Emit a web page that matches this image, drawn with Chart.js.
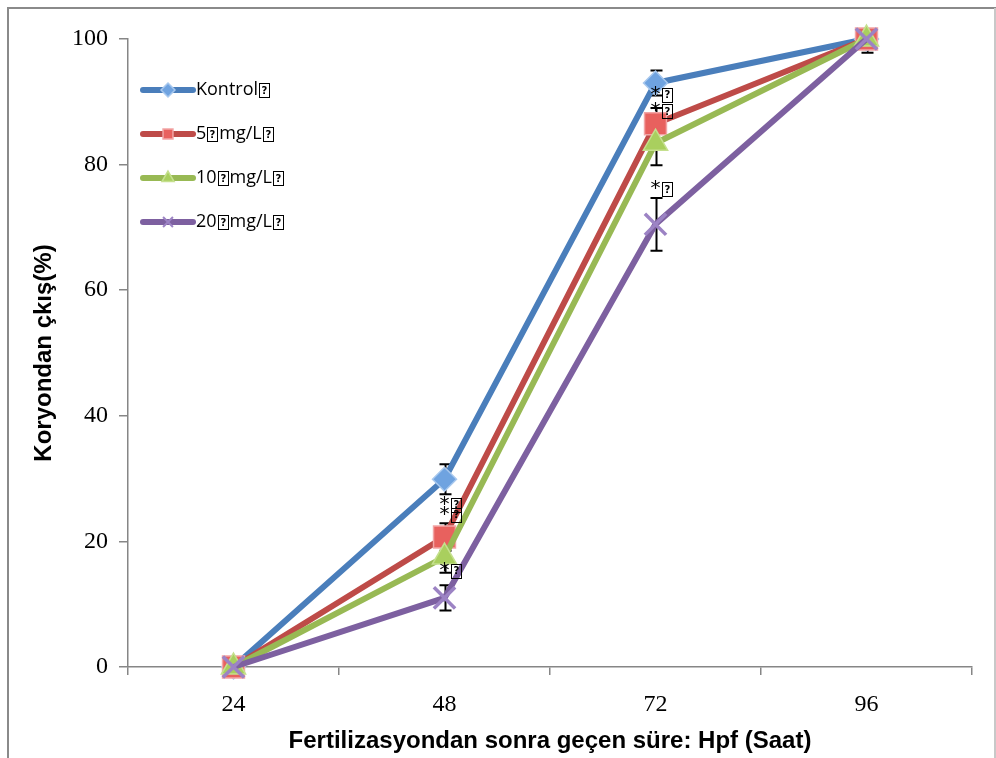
<!DOCTYPE html>
<html><head><meta charset="utf-8">
<script src="https://cdn.jsdelivr.net/npm/chart.js@4/dist/chart.umd.min.js"></script>
<style>html,body{margin:0;padding:0;background:#fff;}#wrap{width:996px;height:758px;position:relative;}</style>
</head><body><div id="wrap"><canvas id="c" width="996" height="758"></canvas></div>
<script>
const TOFU = '\u25A1';
const categories = ['24', '48', '72', '96'];
const seriesNames = ['Kontrol' + TOFU, '5' + TOFU + 'mg/L' + TOFU, '10' + TOFU + 'mg/L' + TOFU, '20' + TOFU + 'mg/L' + TOFU];
const kontrol = [0, 29.9, 93.0, 100];
const mg5 = [0, 20.7, 86.5, 100];
const mg10 = [0, 17.5, 83.4, 100];
const mg20 = [0, 11.0, 70.5, 100];
const kontrolErr = [0, 2.4, 2.0, 0];
const mg5Err = [0, 2.2, 2.5, 0];
const mg10Err = [0, 2.5, 3.5, 0];
const mg20Err = [0, 2.0, 4.2, 2.2];
const sigText = '*' + TOFU;
const mg5Sig = [null, 26.3, 91.6, null];
const mg10Sig = [null, 24.7, 89.0, null];
const mg20Sig = [null, 15.8, 76.6, null];
const yTicks = [0, 20, 40, 60, 80, 100];

const lineColors = ['#4A7EBB', '#BE4B48', '#98B954', '#7D60A0'];
const markerFill = ['#6FA3E0', '#E8615E', '#A9CF5E', '#9C83C4'];
const markerBorder = ['#A8C8EE', '#F2A5A5', '#C5E08E', '#B9A6D8'];
const pointStyles = ['rectRot', 'rect', 'triangle', 'crossRot'];
const pointRadii = [12, 15.5, 14, 15];

const allValues = [kontrol, mg5, mg10, mg20];
const allErr = [kontrolErr, mg5Err, mg10Err, mg20Err];
const allSig = [null, mg5Sig, mg10Sig, mg20Sig];

function drawTofuText(ctx, text, x, y, font, color) {
  ctx.save();
  ctx.font = font; ctx.fillStyle = color; ctx.textBaseline = 'middle'; ctx.textAlign = 'left';
  const parts = text.split(TOFU);
  let cx = x;
  parts.forEach((p, i) => {
    if (p) { ctx.fillText(p, cx, y); cx += ctx.measureText(p).width; }
    if (i < parts.length - 1) {
      const bw = 10, bh = 14;
      const bx = Math.round(cx) + 1.5, by = Math.round(y - bh / 2) + 0.5;
      ctx.save();
      ctx.strokeStyle = '#000'; ctx.lineWidth = 1;
      ctx.strokeRect(bx, by, bw, bh);
      ctx.font = 'bold 10px "DejaVu Sans"'; ctx.textAlign = 'center'; ctx.fillStyle = '#000';
      ctx.fillText('?', bx + bw / 2, y + 1);
      ctx.restore();
      cx += bw + 3;
    }
  });
  ctx.restore();
}

const framePlugin = {
  id: 'frame',
  beforeDraw(chart) {
    const ctx = chart.ctx;
    ctx.save();
    ctx.fillStyle = '#fff'; ctx.fillRect(0, 0, chart.width, chart.height);
    ctx.strokeStyle = '#8a8a8a'; ctx.lineWidth = 2;
    ctx.beginPath(); ctx.moveTo(8, chart.height); ctx.lineTo(8, 8); ctx.lineTo(chart.width, 8); ctx.stroke();
    ctx.strokeStyle = '#c8c8c8'; ctx.lineWidth = 2;
    ctx.beginPath(); ctx.moveTo(995, 8); ctx.lineTo(995, chart.height); ctx.stroke();
    ctx.restore();
  }
};

const errPlugin = {
  id: 'errbars',
  beforeDatasetsDraw(chart) {
    const ctx = chart.ctx, xs = chart.scales.x, ys = chart.scales.y, a = chart.chartArea;
    ctx.save();
    ctx.beginPath(); ctx.rect(a.left, a.top, a.right - a.left, a.bottom - a.top); ctx.clip();
    ctx.strokeStyle = '#000'; ctx.lineWidth = 2;
    allValues.forEach((vals, s) => {
      vals.forEach((v, i) => {
        const e = allErr[s][i];
        if (!e) return;
        const x = Math.round(xs.getPixelForValue(i)) + 0.5;
        const y1 = ys.getPixelForValue(v + e), y2 = ys.getPixelForValue(v - e);
        ctx.beginPath();
        ctx.moveTo(x, y1); ctx.lineTo(x, y2);
        ctx.moveTo(x - 6, y1); ctx.lineTo(x + 6, y1);
        ctx.moveTo(x - 6, y2); ctx.lineTo(x + 6, y2);
        ctx.stroke();
      });
    });
    ctx.restore();
  },
  afterDatasetsDraw(chart) {
    const ctx = chart.ctx, xs = chart.scales.x, ys = chart.scales.y;
    allSig.forEach(sig => {
      if (!sig) return;
      sig.forEach((v, i) => {
        if (v === null) return;
        const x = xs.getPixelForValue(i) - 5;
        const y = ys.getPixelForValue(v);
        drawTofuText(ctx, sigText, x, y + 3, '20px "DejaVu Sans"', '#000');
      });
    });
  }
};

const legendPlugin = {
  id: 'insideLegend',
  afterDraw(chart) {
    const ctx = chart.ctx, a = chart.chartArea;
    const x0 = a.left + 15, x1 = a.left + 65, y0 = a.top + 51, dy = 44;
    chart.data.datasets.forEach((ds, i) => {
      const y = y0 + i * dy;
      ctx.save();
      ctx.strokeStyle = lineColors[i]; ctx.lineWidth = 6; ctx.lineCap = 'round';
      ctx.beginPath(); ctx.moveTo(x0, y); ctx.lineTo(x1, y); ctx.stroke();
      ctx.restore();
      ctx.save();
      ctx.fillStyle = markerFill[i]; ctx.strokeStyle = (i === 3) ? markerFill[i] : markerBorder[i];
      ctx.lineWidth = (i === 3) ? 2 : 1.5;
      Chart.helpers.drawPoint(ctx, { pointStyle: pointStyles[i], radius: 7, rotation: 0, borderWidth: ctx.lineWidth }, (x0 + x1) / 2, y);
      ctx.restore();
      drawTofuText(ctx, ds.label, x1 + 3, y, '18px "Open Sans"', '#000');
    });
  }
};

const datasets = allValues.map((vals, i) => ({
  label: seriesNames[i],
  data: vals,
  borderColor: lineColors[i],
  backgroundColor: markerFill[i],
  borderWidth: 6,
  tension: 0,
  pointStyle: pointStyles[i],
  pointRadius: pointRadii[i],
  pointHoverRadius: pointRadii[i],
  pointBackgroundColor: markerFill[i],
  pointBorderColor: i === 3 ? markerFill[i] : markerBorder[i],
  pointBorderWidth: i === 3 ? 3.5 : 1.5,
  order: 3 - i,
  clip: false
}));

new Chart(document.getElementById('c'), {
  type: 'line',
  data: { labels: categories, datasets },
  options: {
    responsive: false,
    animation: false,
    devicePixelRatio: 1,
    layout: { padding: { top: 39, right: 24, left: 0, bottom: 0 } },
    plugins: { legend: { display: false }, tooltip: { enabled: false } },
    scales: {
      x: {
        type: 'category',
        offset: true,
        grid: { display: true, drawOnChartArea: false, drawTicks: true, tickLength: 8, color: '#868686', lineWidth: 1.5, offset: true },
        border: { display: true, color: '#868686', width: 1.5 },
        ticks: { color: '#000', font: { family: 'Liberation Serif', size: 24 }, padding: 15 },
        title: { display: true, text: 'Fertilizasyondan sonra geçen süre: Hpf (Saat)', color: '#000',
                 font: { family: 'Liberation Sans', size: 24, weight: 'bold' }, padding: { top: 0, bottom: 2 } },
        afterFit(s) { s.height = 91; }
      },
      y: {
        min: 0, max: 100,
        afterBuildTicks(s) { s.ticks = yTicks.map(v => ({ value: v })); },
        grid: { display: true, drawOnChartArea: false, drawTicks: true, tickLength: 9, color: '#868686', lineWidth: 1.5 },
        border: { display: true, color: '#868686', width: 1.5 },
        ticks: { color: '#000', font: { family: 'Liberation Serif', size: 24 }, padding: 11 },
        title: { display: true, text: 'Koryondan çkış(%)', color: '#000',
                 font: { family: 'Liberation Sans', size: 24, weight: 'bold' }, padding: { top: 30, bottom: 0 } },
        afterFit(s) { s.width = 128; }
      }
    }
  },
  plugins: [framePlugin, errPlugin, legendPlugin]
});
</script></body></html>
